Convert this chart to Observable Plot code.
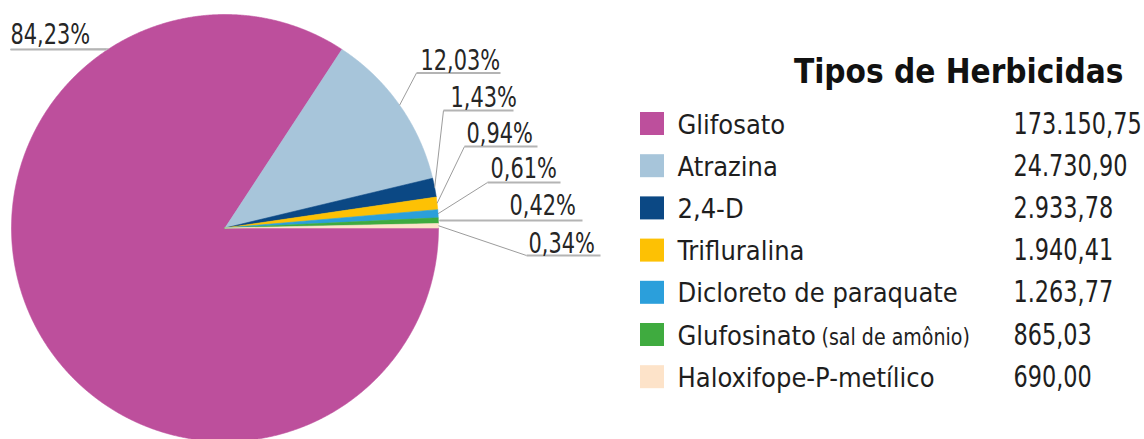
<!DOCTYPE html>
<html>
<head>
<meta charset="utf-8">
<script src="https://cdn.jsdelivr.net/npm/d3@7"></script>
<script src="https://cdn.jsdelivr.net/npm/@observablehq/plot@0.6"></script>
<style>
  html, body { margin: 0; padding: 0; background: #fff; }
  #chart svg { display: block; }
</style>
</head>
<body>
<div id="chart"></div>
<script>
// ---------- DATA ----------
const names = ["Glifosato", "Atrazina", "2,4-D", "Trifluralina", "Dicloreto de paraquate", "Glufosinato", "Haloxifope-P-metílico"];
const nameNotes = ["", "", "", "", "", "(sal de amônio)", ""];
const values = [173150.75, 24730.90, 2933.78, 1940.41, 1263.77, 865.03, 690.00];
const colors = ["#bd4f9c", "#a7c5da", "#0b4884", "#fdc104", "#2b9fdb", "#3fab3f", "#fde3c9"];
const legendTitle = "Tipos de Herbicidas";

// ---------- LAYOUT ----------
const W = 1144, H = 439;
const cx = 224.5, cy = 227.5, R = 213.5;
const X = px => (px - cx) / R;
const Y = py => (cy - py) / R;

// percent label placement (pixels): text start, baseline, underline
const labelLayout = [
  {tx: 10,  ty: 43,  ux1: 10,  ux2: 106, uy: 49,  anchorDeg: 123},
  {tx: 420, ty: 69,  ux1: 416, ux2: 500, uy: 72.5},
  {tx: 450, ty: 106, ux1: 443, ux2: 513, uy: 110},
  {tx: 466, ty: 142, ux1: 464, ux2: 537, uy: 146},
  {tx: 490, ty: 177, ux1: 487, ux2: 560, uy: 182},
  {tx: 509, ty: 214, ux1: 439, ux2: 582, uy: 220},
  {tx: 528, ty: 252, ux1: 526, ux2: 600, uy: 255}
];
const legend = {swX: 640, swW: 24, swTop: 112, swH: 23, pitch: 42.2, nameX: 677, baseOff: 21, valX: 1013, noteX: 821, titleRight: 1123, titleBase: 82};

const narrowFactor = 0.83; // digits font in the reference is narrower than available fonts
const nameFont = "'DejaVu Sans Condensed', 'DejaVu Sans', sans-serif";

// ---------- DERIVED ----------
const total = d3.sum(values);
const br = d3.formatLocale({decimal: ",", thousands: ".", grouping: [3], currency: ["", ""]});
const fmtVal = br.format(",.2f");
const fmtPct = br.format(".2%");

const rows = names.map((name, i) => ({name, note: nameNotes[i], value: values[i], color: colors[i], i}));

const arcs = d3.pie().sort(null).value(d => d.value)
  .startAngle(Math.PI / 2).endAngle(Math.PI / 2 + 2 * Math.PI)(rows);

const verts = [];
arcs.forEach(a => {
  const name = a.data.name;
  const n = Math.max(2, Math.ceil((a.endAngle - a.startAngle) / (Math.PI / 720)));
  verts.push({name, x: 0, y: 0});
  for (let k = 0; k <= n; k++) {
    const t = a.startAngle + (a.endAngle - a.startAngle) * k / n;
    verts.push({name, x: Math.sin(t), y: Math.cos(t)});
  }
  verts.push({name, x: 0, y: 0});
});

const labels = arcs.map((a, i) => {
  const L = labelLayout[i];
  let ax, ay;
  if (L.anchorDeg !== undefined) {
    const th = L.anchorDeg * Math.PI / 180;
    ax = Math.cos(th); ay = Math.sin(th);
  } else {
    const m = (a.startAngle + a.endAngle) / 2;
    ax = Math.sin(m); ay = Math.cos(m);
  }
  return {
    text: fmtPct(a.data.value / total),
    tx: X(L.tx), ty: Y(L.ty),
    ux1: X(L.ux1), ux2: X(L.ux2), uy: Y(L.uy),
    ax, ay
  };
});

const legendRows = rows.map((r, i) => {
  const top = legend.swTop + legend.pitch * i;
  return {
    name: r.name, note: r.note, val: fmtVal(r.value),
    x1: X(legend.swX), x2: X(legend.swX + legend.swW),
    y1: Y(top), y2: Y(top + legend.swH),
    nx: X(legend.nameX), vx: X(legend.valX), notex: X(legend.noteX),
    by: Y(top + legend.baseOff)
  };
});

const chart = Plot.plot({
  width: W, height: H,
  margin: 0,
  x: {domain: [-1, 1], range: [cx - R, cx + R], axis: null},
  y: {domain: [-1, 1], range: [cy + R, cy - R], axis: null},
  color: {domain: names, range: colors},
  style: {background: "#fff", overflow: "visible"},
  marks: [
    Plot.line(verts, {x: "x", y: "y", z: "name", fill: "name", stroke: "name", strokeWidth: 0.6, curve: "linear"}),
    Plot.link(labels, {x1: "ux1", y1: "uy", x2: "ax", y2: "ay", stroke: "#9c9c9c", strokeWidth: 1}),
    Plot.link(labels, {x1: "ux1", y1: "uy", x2: "ux2", y2: "uy", stroke: "#b4b4b4", strokeWidth: 2}),
    Plot.text(labels, {x: "tx", y: "ty", text: "text", textAnchor: "start", lineAnchor: "bottom",
      fontSize: 28, fontFamily: nameFont, fill: "#262626", className: "narrow-text"}),
    // legend
    Plot.text([legendTitle], {x: X(legend.titleRight), y: Y(legend.titleBase), text: d => d, textAnchor: "end", lineAnchor: "bottom",
      fontSize: 33, fontWeight: "bold", fontFamily: nameFont, fill: "#111"}),
    Plot.rect(legendRows, {x1: "x1", x2: "x2", y1: "y1", y2: "y2", fill: "name"}),
    Plot.text(legendRows, {x: "nx", y: "by", text: "name", textAnchor: "start", lineAnchor: "bottom",
      fontSize: 27, fontFamily: nameFont, fill: "#1e1e1e"}),
    Plot.text(legendRows.filter(d => d.note), {x: "notex", y: "by", text: "note", textAnchor: "start", lineAnchor: "bottom",
      fontSize: 23, fontFamily: nameFont, fill: "#1e1e1e", className: "note-text"}),
    Plot.text(legendRows, {x: "vx", y: "by", text: "val", textAnchor: "start", lineAnchor: "bottom",
      fontSize: 30, fontFamily: nameFont, fill: "#1e1e1e", className: "narrow-text"})
  ]
});
document.getElementById("chart").appendChild(chart);

// condense the digit labels to match the reference's narrow numeral font
d3.select(chart).selectAll("g.narrow-text text").each(function() {
  const t = this.getAttribute("transform") || "";
  this.setAttribute("transform", t + ` scale(${narrowFactor},1)`);
});
d3.select(chart).selectAll("g.note-text text").each(function() {
  const t = this.getAttribute("transform") || "";
  this.setAttribute("transform", t + " scale(0.92,1)");
});
</script>
</body>
</html>
